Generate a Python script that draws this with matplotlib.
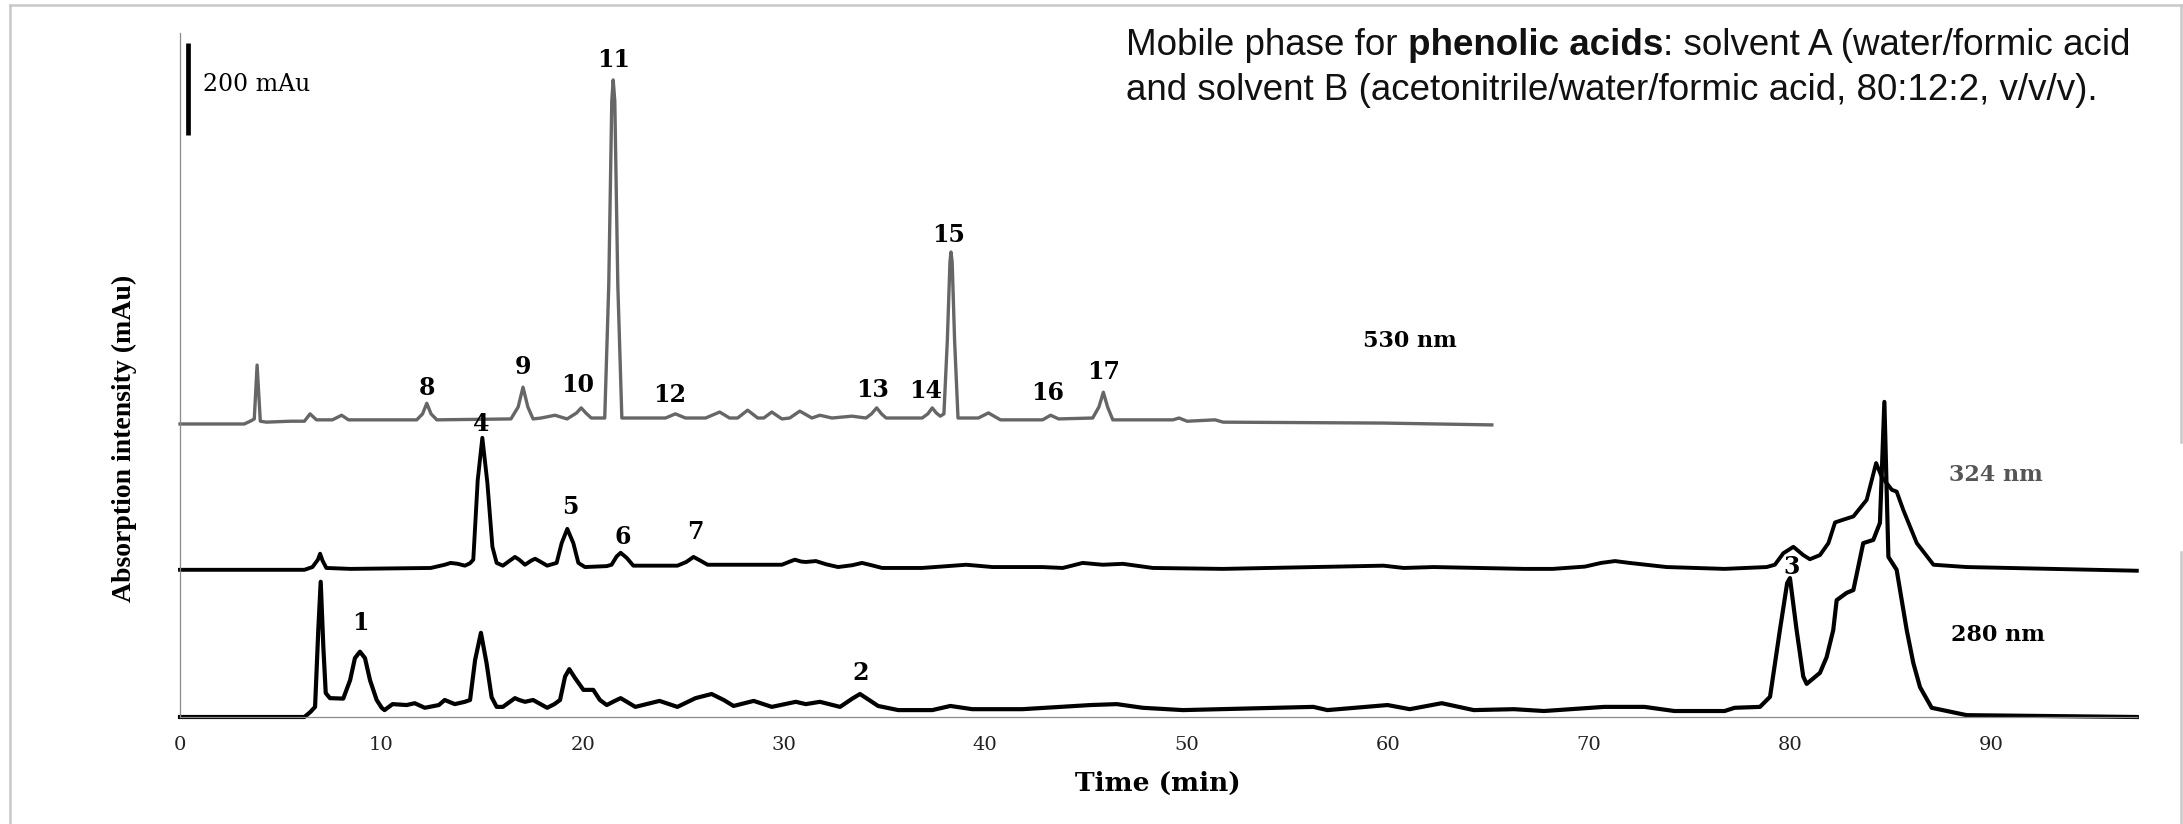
import numpy as np
import matplotlib.pyplot as plt
from matplotlib.lines import Line2D

# retention time (min) and signal above each trace's own baseline (mAu)
t_530 = [0.0, 3.19, 3.49, 3.69, 3.83, 3.99, 4.29, 5.48, 6.18, 6.46, 6.78, 7.57, 8.03, 8.37, 9.97,
         11.76, 12.05, 12.26, 12.47, 12.76, 16.44, 16.80, 17.04, 17.28, 17.54, 17.94, 18.63, 19.23,
         19.70, 19.93, 20.16, 20.43, 20.93, 21.10, 21.30, 21.45, 21.52, 21.60, 21.75, 21.95,
         24.12, 24.61, 25.11, 26.11, 26.81, 27.30, 27.70, 28.20, 28.70, 29.00, 29.40, 29.90,
         30.29, 30.79, 31.39, 31.79, 32.39, 33.38, 34.08, 34.35, 34.61, 34.85, 35.08, 36.87,
         37.15, 37.37, 37.57, 37.77, 37.95, 38.12, 38.25, 38.30, 38.36, 38.48, 38.65, 39.66,
         40.16, 40.76, 42.85, 43.25, 43.65, 45.34, 45.65, 45.87, 46.08, 46.34, 49.33, 49.63,
         50.03, 51.42, 51.82, 59.79, 65.17]
a_530 = [-2, -2, 4, 9, 126, 4, 2, 4, 4, 20, 7, 7, 17, 7, 7,
         7, 20, 43, 20, 7, 9, 35, 78, 35, 9, 11, 17, 9,
         22, 33, 22, 11, 11, 11, 300, 700, 746, 700, 300, 11,
         11, 20, 11, 11, 24, 11, 11, 28, 11, 11, 24, 9,
         11, 26, 11, 17, 11, 15, 11, 20, 33, 20, 11, 11,
         20, 33, 22, 15, 20, 180, 350, 372, 350, 180, 11, 11,
         22, 7, 7, 17, 9, 11, 35, 67, 35, 7, 7, 11,
         4, 7, 2, 0, -4]

t_324 = [0.0, 6.18, 6.58, 6.85, 6.96, 7.08, 7.27, 8.47, 12.46, 13.15, 13.45, 13.80, 14.15,
         14.40, 14.57, 14.79, 15.02, 15.27, 15.52, 15.73, 16.04, 16.45, 16.64, 16.85, 17.14,
         17.45, 17.64, 17.85, 18.24, 18.71, 18.96, 19.24, 19.54, 19.79, 20.12, 21.20, 21.44,
         21.69, 21.89, 22.19, 22.52, 24.71, 25.15, 25.51, 25.85, 26.21, 29.90, 30.30, 30.55,
         30.85, 31.09, 31.59, 32.10, 32.69, 33.40, 33.88, 34.35, 34.88, 36.87, 39.06, 40.36,
         42.85, 43.85, 44.40, 44.84, 45.84, 46.84, 48.33, 51.82, 59.79, 60.79, 62.28, 66.77,
         68.20, 69.80, 70.60, 71.29, 72.00, 73.85, 76.73, 78.82, 79.23, 79.65, 80.15, 80.64,
         80.97, 81.47, 81.89, 82.22, 82.63, 83.13, 83.79, 84.26, 84.54, 85.04, 85.28, 85.61,
         86.28, 87.11, 88.76, 97.21]
a_324 = [-2, -2, 4, 20, 33, 18, 2, 0, 2, 9, 13, 11, 7,
         12, 20, 193, 285, 187, 48, 13, 7, 20, 26, 20, 9,
         18, 22, 17, 7, 13, 56, 87, 56, 13, 4, 6, 9,
         27, 35, 24, 7, 7, 15, 26, 18, 9, 9, 16, 20,
         16, 15, 17, 10, 4, 8, 13, 8, 2, 2, 9, 4,
         4, 2, 8, 13, 9, 11, 2, 0, 7, 2, 4, 0,
         0, 5, 13, 17, 13, 4, 0, 4, 9, 34, 48, 30,
         21, 30, 56, 101, 107, 114, 150, 230, 200, 172, 168, 128,
         56, 9, 4, -4]

t_280 = [0.0, 6.18, 6.48, 6.71, 6.87, 6.99, 7.12, 7.24, 7.45, 8.11, 8.45, 8.69, 8.94, 9.19,
         9.44, 9.77, 10.02, 10.16, 10.56, 11.26, 11.66, 12.16, 12.86, 13.15, 13.65, 14.15,
         14.41, 14.66, 14.95, 15.23, 15.48, 15.73, 16.04, 16.45, 16.64, 16.85, 17.14, 17.54,
         18.24, 18.60, 18.88, 19.13, 19.34, 19.62, 20.04, 20.53, 20.86, 21.20, 21.60, 21.89,
         22.20, 22.62, 23.82, 24.71, 25.61, 26.41, 27.01, 27.50, 28.50, 29.40, 30.59, 31.09,
         31.79, 32.79, 33.40, 33.78, 34.20, 34.68, 35.68, 37.37, 38.27, 39.36, 41.85, 45.24,
         46.54, 47.83, 49.83, 56.30, 57.00, 59.99, 61.09, 62.68, 64.27, 66.27, 67.76, 70.75,
         72.75, 74.24, 76.73, 77.23, 78.49, 78.99, 79.48, 79.84, 79.98, 80.31, 80.64, 80.81,
         81.47, 81.80, 82.13, 82.30, 82.80, 83.13, 83.62, 84.12, 84.45, 84.67, 84.87, 85.28,
         85.78, 86.11, 86.44, 87.02, 88.76, 97.21]
a_280 = [0, 0, 11, 22, 189, 294, 153, 52, 41, 40, 80, 128, 142, 128,
         80, 37, 20, 15, 28, 26, 30, 20, 26, 37, 28, 33,
         37, 124, 183, 117, 43, 22, 22, 35, 41, 37, 33, 37,
         20, 28, 37, 88, 104, 85, 59, 59, 37, 26, 35, 41,
         33, 22, 35, 22, 41, 50, 37, 24, 35, 22, 33, 28,
         33, 22, 40, 50, 38, 24, 15, 15, 24, 17, 17, 26,
         28, 20, 15, 22, 15, 26, 17, 30, 15, 17, 13, 22,
         22, 13, 13, 20, 22, 44, 189, 291, 302, 189, 88, 72,
         96, 130, 189, 254, 270, 276, 378, 385, 422, 685, 348, 320,
         189, 117, 65, 20, 4, 0]

# stacking of the detector traces (mAu)
offset_530 = 639
offset_324 = 322

peak_names = ["1", "2", "3", "4", "5", "6", "7", "8", "9", "10", "11", "12", "13", "14", "15", "16", "17"]
peak_t = [8.94, 33.83, 80.06, 14.99, 19.37, 21.99, 25.58, 12.27, 17.04, 19.77, 21.56, 24.34,
          34.43, 37.04, 38.17, 43.12, 45.90]
peak_y = [204, 96, 326, 637, 457, 391, 402, 715, 761, 722, 1428, 700, 711, 709, 1048, 704, 750]

wl_names = ["530 nm", "324 nm", "280 nm"]
wl_t = [61.1, 90.2, 90.3]
wl_y = [818, 526, 178]
wl_colors = ["black", "#555555", "black"]

x_ticks = [0, 10, 20, 30, 40, 50, 60, 70, 80, 90]

W, H = 2183, 824
fig = plt.figure(figsize=(W / 100, H / 100), dpi=100)
ax = fig.add_axes([180 / W, 1 - 717 / H, 1957 / W, 684 / H])
ax.set_xlim(0, 97.22)
ax.set_ylim(0, 1487)

ax.plot(t_530, np.array(a_530) + offset_530, color="#666666", lw=2.4, clip_on=False,
        solid_joinstyle="round")
ax.plot(t_324, np.array(a_324) + offset_324, color="black", lw=2.8, clip_on=False,
        solid_joinstyle="round")
ax.plot(t_280, a_280, color="black", lw=3.0, clip_on=False, solid_joinstyle="round")

for s, x, y in zip(peak_names, peak_t, peak_y):
    ax.text(x, y, s, ha="center", va="center", family="DejaVu Serif", weight="bold", size=17)
for s, x, y, c in zip(wl_names, wl_t, wl_y, wl_colors):
    ax.text(x, y, s, ha="center", va="center", family="DejaVu Serif", weight="bold", size=16, color=c)

# 200 mAu scale bar
ax.plot([0.40, 0.40], [1265, 1465], color="black", lw=3.4, solid_capstyle="butt", clip_on=False)
ax.text(1.14, 1374, "200 mAu", ha="left", va="center", family="DejaVu Serif", size=17)

for side in ["top", "right"]:
    ax.spines[side].set_visible(False)
for side in ["left", "bottom"]:
    ax.spines[side].set_color("#8a8a8a")
    ax.spines[side].set_linewidth(0.9)
ax.set_yticks([])
ax.set_xticks(x_ticks)
ax.tick_params(axis="x", length=0, pad=14, labelsize=14, labelcolor="#222222")
for lab in ax.get_xticklabels():
    lab.set_family("DejaVu Serif")

fig.text(124 / W, 1 - 438 / H, "Absorption intensity (mAu)", rotation=90, ha="center", va="center",
         family="Liberation Serif", weight="bold", size=20)
fig.text(1158 / W, 1 - 783 / H, "Time (min)", ha="center", va="center",
         family="DejaVu Serif", weight="bold", size=19)

# light grey frame of the original panel
frame = dict(color="#c8c8c8", lw=1.8, transform=fig.transFigure)
fig.add_artist(Line2D([10 / W, 10 / W], [0, 1 - 5 / H], **frame))
fig.add_artist(Line2D([10 / W, 1], [1 - 5 / H, 1 - 5 / H], **frame))
fig.add_artist(Line2D([2181 / W, 2181 / W], [1 - 5 / H, 1 - 442 / H], **frame))
fig.add_artist(Line2D([2181 / W, 2181 / W], [1 - 552 / H, 0], **frame))

# mobile phase note, with the bold part drawn as its own piece
sans = "Liberation Sans"
renderer = fig.canvas.get_renderer()
x = 1126 / W
for piece, wt in [("Mobile phase for ", "normal"), ("phenolic acids", "bold"),
                  (": solvent A (water/formic acid", "normal")]:
    t = fig.text(x, 1 - 55 / H, piece, family=sans, weight=wt, size=26.5, va="baseline", color="#111111")
    x = t.get_window_extent(renderer).x1 / W
fig.text(1126 / W, 1 - 100 / H, "and solvent B (acetonitrile/water/formic acid, 80:12:2, v/v/v).",
         family=sans, size=26.5, va="baseline", color="#111111")

fig.savefig("out.png", dpi=100)
